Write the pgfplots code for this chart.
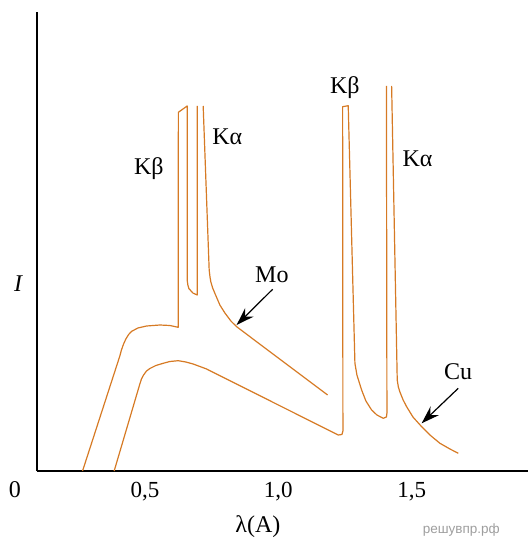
\documentclass[border=0pt]{standalone}
\usepackage{pgfplots}
\pgfplotsset{compat=1.18}
\usetikzlibrary{arrows.meta}
\usepackage{fontspec}
\setmainfont{Liberation Serif}
\newfontfamily\wmfont{Liberation Sans}
\definecolor{cur}{RGB}{214,122,36}
\tikzset{lbl/.style={font=\fontsize{24}{26}\selectfont, anchor=base, inner sep=0pt},
  spec/.style={cur, line width=1.2pt, line join=round, mark=none}}
\begin{document}
\begin{tikzpicture}
\begin{axis}[
 scale only axis, width=491pt, height=459pt,
 xmin=0.0955, xmax=1.936, ymin=0, ymax=459,
 axis lines=left, axis line style={-, line width=1.3pt},
 xtick={0.5,1.0,1.5}, xticklabels={{0,5},{1,0},{1,5}},
 ytick=\empty, major tick length=0pt,
 /pgf/number format/assume math mode=true,
 xticklabel style={font=\fontsize{23}{26}\selectfont, anchor=base, yshift=-26pt, inner sep=0pt},
 clip=false,
]
% Mo spectrum
\addplot[spec] coordinates {(0.2662,0) (0.4060,115) (0.4120,121) (0.4200,127) (0.4286,132) (0.4390,136.5) (0.4499,139.6) (0.4736,143) (0.5062,145) (0.5561,146) (0.5936,145.5) (0.6247,143.7) (0.6254,358.7) (0.6584,365) (0.6584,191) (0.6610,186) (0.6647,182.5) (0.6797,178) (0.6959,176) (0.6959,365)};
\addplot[spec] coordinates {(0.7184,365) (0.7409,201) (0.7440,194) (0.7472,189) (0.7540,183) (0.7622,177.7) (0.7810,166) (0.7998,158) (0.8223,150) (0.8437,144.3) (1.1849,76)};
% Cu spectrum
\addplot[spec] coordinates {(0.3847,0) (0.4810,87) (0.4870,92) (0.4950,96) (0.5060,100) (0.5186,102.5) (0.5411,105.5) (0.5684,107.7) (0.5936,109.5) (0.6247,110.3) (0.6535,109) (0.6809,107) (0.7312,102) (1.2246,36) (1.2385,36.5) (1.2422,40) (1.2411,364.3) (1.2621,365.3) (1.2872,107.7) (1.2947,96) (1.3123,81) (1.3284,70) (1.3498,61) (1.3697,56) (1.3933,52.7) (1.4053,54) (1.4072,58) (1.4053,385)};
\addplot[spec] coordinates {(1.4248,385) (1.4458,91) (1.4500,84) (1.4559,79) (1.4680,71) (1.4810,64.3) (1.5047,54) (1.5373,44.3) (1.5684,36) (1.6059,27.7) (1.6434,22) (1.6745,17.7)};
% arrows
\draw[black, line width=1.2pt, -{Stealth[length=18pt,width=12pt,inset=6pt]}] (axis cs:0.9787,181.7) -- (axis cs:0.8437,146);
\draw[black, line width=1.2pt, -{Stealth[length=18pt,width=12pt,inset=6pt]}] (axis cs:1.6745,82.7) -- (axis cs:1.5373,47.7);
% labels
\node[lbl] at (axis cs:0.5148,296) {Kβ};
\node[lbl] at (axis cs:0.8091,326) {Kα};
\node[lbl] at (axis cs:0.976,188) {Mo};
\node[lbl] at (axis cs:1.2497,377) {Kβ};
\node[lbl] at (axis cs:1.5216,304.3) {Kα};
\node[lbl] at (axis cs:1.6745,91) {Cu};
\node[lbl, font=\fontsize{24}{26}\selectfont\itshape] at (axis cs:0.0955,179.3) [xshift=-19pt] {I};
\node[lbl] at (axis cs:0.0955,0) [xshift=-22pt, yshift=-26pt] {0};
\node[lbl] at (axis cs:0.9236,0) [yshift=-61pt] {λ(A)};
\node[anchor=base, inner sep=0pt, font=\wmfont\fontsize{13.5}{15}\selectfont, text=black!38] at (axis cs:1.6858,0) [yshift=-62pt] {решувпр.рф};
% bounding box
\path (rel axis cs:0,0) ++(-37pt,-72pt) coordinate (bl);
\path (rel axis cs:1,1) ++(1pt,12pt) coordinate (tr);
\end{axis}
\pgfresetboundingbox
\path[use as bounding box] (bl) rectangle (tr);
\end{tikzpicture}
\end{document}
